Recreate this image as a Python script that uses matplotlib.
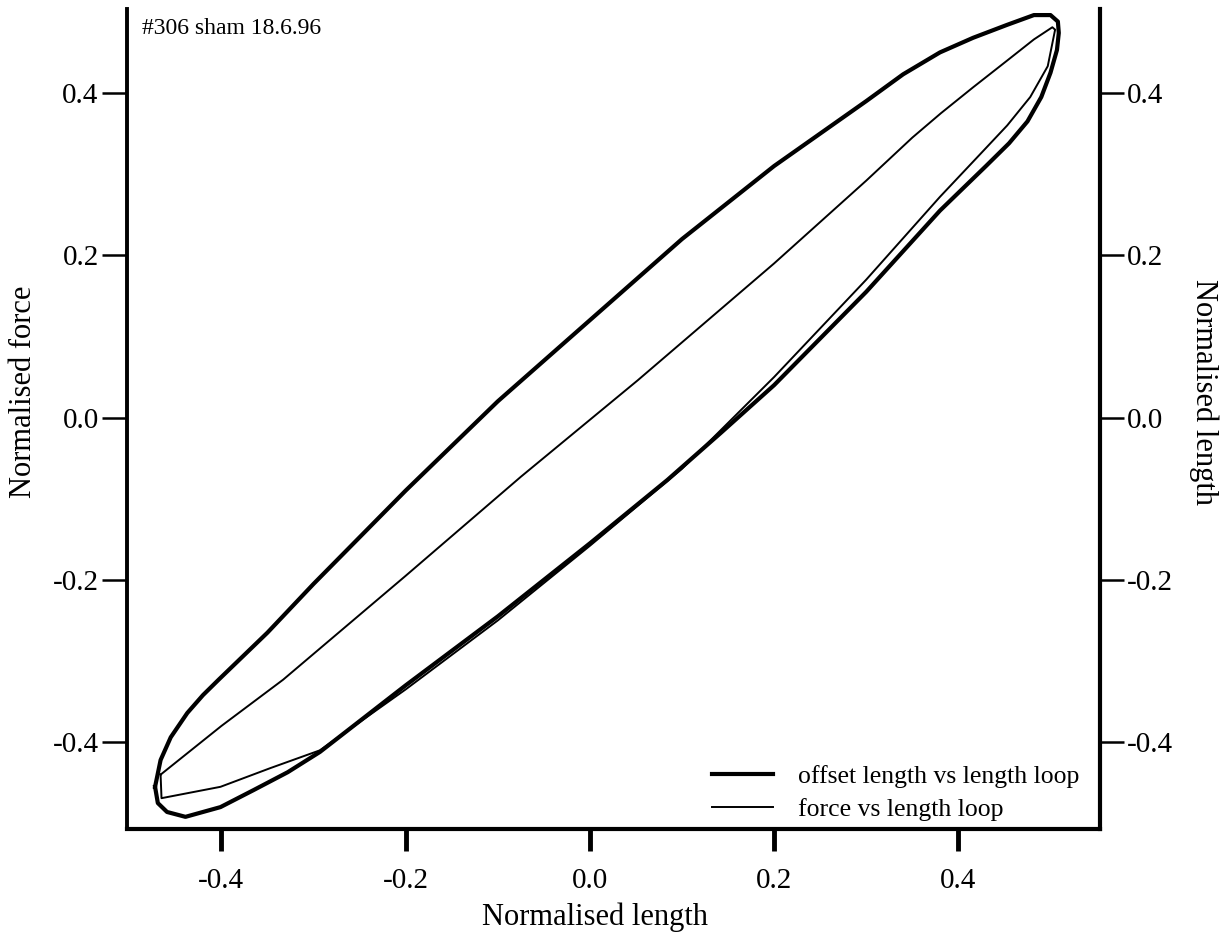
import matplotlib
matplotlib.use("Agg")
import matplotlib.pyplot as plt

plt.rcParams["font.family"] = ["Liberation Serif", "DejaVu Serif"]
plt.rcParams["axes.unicode_minus"] = False

# offset length vs length loop (thick trace)
offset_x = [-0.472, -0.466, -0.455, -0.437, -0.420, -0.403, -0.35, -0.30, -0.20, -0.10,
            0.00, 0.10, 0.20, 0.25, 0.30, 0.34, 0.38, 0.416, 0.453, 0.482,
            0.500, 0.508, 0.509, 0.507, 0.500, 0.490, 0.475, 0.455, 0.430, 0.38,
            0.30, 0.20, 0.142, 0.084, 0.00, -0.10, -0.20, -0.293, -0.328, -0.365,
            -0.401, -0.439, -0.459, -0.469, -0.472]
offset_y = [-0.455, -0.422, -0.394, -0.364, -0.342, -0.323, -0.265, -0.205, -0.09, 0.02,
            0.12, 0.22, 0.31, 0.35, 0.39, 0.423, 0.450, 0.468, 0.484, 0.496,
            0.496, 0.488, 0.474, 0.453, 0.425, 0.395, 0.365, 0.338, 0.310, 0.255,
            0.155, 0.04, -0.019, -0.077, -0.155, -0.245, -0.33, -0.412, -0.437, -0.459,
            -0.480, -0.492, -0.486, -0.475, -0.455]

# force vs length loop (thin trace)
force_x = [-0.466, -0.40, -0.333, -0.20, -0.075, 0.052, 0.20, 0.30, 0.35, 0.381,
           0.416, 0.453, 0.482, 0.502, 0.505, 0.497, 0.478, 0.453, 0.424, 0.38,
           0.30, 0.20, 0.10, 0.00, -0.10, -0.20, -0.293, -0.347, -0.401, -0.465,
           -0.466]
force_y = [-0.440, -0.380, -0.323, -0.195, -0.073, 0.046, 0.19, 0.292, 0.345, 0.375,
           0.407, 0.440, 0.466, 0.481, 0.478, 0.433, 0.395, 0.360, 0.325, 0.272,
           0.17, 0.05, -0.063, -0.158, -0.25, -0.335, -0.410, -0.432, -0.455, -0.469,
           -0.440]

ticks = [-0.4, -0.2, 0.0, 0.2, 0.4]
tick_labels = ["-0.4", "-0.2", "0.0", "0.2", "0.4"]

fig = plt.figure(figsize=(12.27, 9.36), dpi=100)
ax = fig.add_axes([0.1031, 0.1143, 0.7936, 0.8761])

ax.plot(offset_x, offset_y, color="black", lw=3.0, solid_joinstyle="round",
        label="offset length vs length loop")
ax.plot(force_x, force_y, color="black", lw=1.4, solid_joinstyle="round",
        label="force vs length loop")

ax.set_xlim(-0.503, 0.554)
ax.set_ylim(-0.507, 0.5035)

for side in ["top", "right"]:
    ax.spines[side].set_visible(False)
ax.spines["left"].set_linewidth(2.8)
ax.spines["bottom"].set_linewidth(3.0)

ax.set_xticks(ticks)
ax.set_xticklabels(tick_labels)
ax.set_yticks(ticks)
ax.set_yticklabels(tick_labels)
ax.tick_params(axis="x", direction="out", length=16, width=3.5, pad=12, labelsize=21)
ax.tick_params(axis="y", direction="out", length=18, width=1.8, pad=2, labelsize=21)

ax.set_xlabel("Normalised length", fontsize=22)
ax.xaxis.set_label_coords(0.481, -0.090)
ax.set_ylabel("Normalised force", fontsize=22)
ax.yaxis.set_label_coords(-0.091, 0.533)

# right-hand axis carries the length scale
ax2 = ax.twinx()
ax2.set_ylim(-0.507, 0.5035)
for side in ["top", "left", "bottom"]:
    ax2.spines[side].set_visible(False)
ax2.spines["right"].set_linewidth(3.0)
ax2.set_yticks(ticks)
ax2.set_yticklabels(tick_labels)
ax2.tick_params(axis="y", direction="out", length=17, width=1.8, pad=2, labelsize=21)
ax2.set_ylabel("Normalised length", fontsize=22, rotation=270, va="bottom")
ax2.yaxis.set_label_coords(1.091, 0.533)

leg = ax.legend(loc="lower right", bbox_to_anchor=(0.979, 0.010), frameon=False,
                fontsize=18.5, handlelength=2.35, handletextpad=1.0,
                labelspacing=0.38, borderpad=0, borderaxespad=0)

fig.text(0.1157, 0.970, "#306 sham 18.6.96", fontsize=17, ha="left", va="center")

fig.savefig("out.png", dpi=100)
